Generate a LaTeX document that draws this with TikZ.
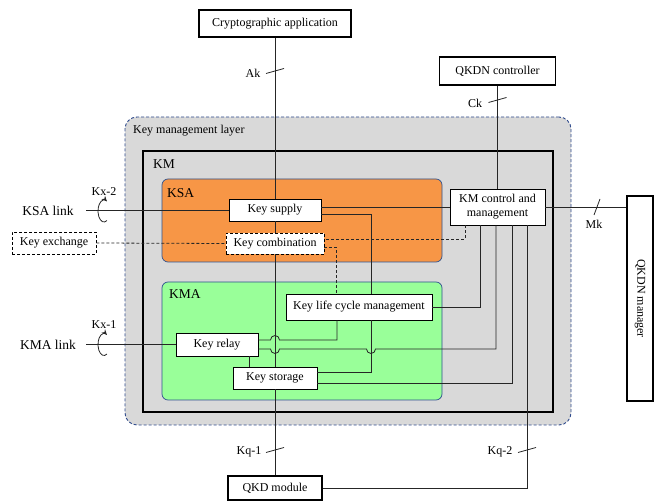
\documentclass[tikz,border=0pt]{standalone}
\usepackage{fontspec}
\setmainfont{Liberation Serif}
\usetikzlibrary{calc,arrows.meta}
\definecolor{layerfill}{HTML}{D9D9D9}
\definecolor{layeredge}{HTML}{2E4A8C}
\definecolor{ksafill}{HTML}{F79646}
\definecolor{kmafill}{HTML}{99FF99}
\definecolor{regionedge}{HTML}{2F528F}
\begin{document}
\begin{tikzpicture}[x=1pt,y=1pt,
  txt/.style={font=\fontsize{12}{14}\selectfont},
  bigtxt/.style={font=\fontsize{13.5}{15}\selectfont},
  fine dash/.style={dash pattern=on 3pt off 2pt},
  box/.style={draw=black, fill=white, line width=0.8pt, inner sep=0pt, align=center, txt},
  heavybox/.style={box, line width=1.8pt},
  dashbox/.style={box, fine dash},
  region/.style={draw=regionedge, line width=0.7pt, rounded corners=6pt, inner sep=0pt},
  wire/.style={line width=0.8pt, draw=black!85},
  dwire/.style={wire, fine dash},
  tag/.style={inner sep=0pt, txt},
  slashv/.pic={\draw[wire] (-9,-2.5) -- (9,2.5);},
  slashh/.pic={\draw[wire] (-3,-8) -- (3,8);},
  twist/.pic={\draw[wire, -{Stealth[length=5.5pt,width=5pt]}] (-60:6 and 11)
      arc[start angle=-60, end angle=-300, x radius=6, y radius=11];}
]
\useasboundingbox (0,0) rectangle (659,501);

% nested regions
\node[draw=layeredge, fine dash, fill=layerfill, line width=0.9pt, rounded corners=12pt,
      inner sep=0pt, minimum width=446pt, minimum height=308pt] (layer) at (348,230) {};
\node[draw=black, line width=2pt, inner sep=0pt, minimum width=410pt, minimum height=261pt] (km) at (348,219.5) {};
\node[region, fill=ksafill, minimum width=280pt, minimum height=83pt] (ksa) at (302,280.5) {};
\node[region, fill=kmafill, minimum width=280pt, minimum height=118pt] (kma) at (302,160) {};

\node[tag, anchor=west] (layerlabel) at (133,370) {Key management layer};
\node[tag, anchor=west, bigtxt] (kmlabel) at (153,337) {KM};
\node[tag, anchor=west, bigtxt] (ksalabel) at (167,308) {KSA};
\node[tag, anchor=west, bigtxt] (kmalabel) at (169,207) {KMA};

% functional blocks
\node[heavybox, minimum width=152pt, minimum height=27pt] (crypto) at (275,477.5) {Cryptographic application};
\node[heavybox, minimum width=116pt, minimum height=28pt] (ctrl) at (497.5,430) {QKDN controller};
\node[box, minimum width=92pt, minimum height=22pt] (supply) at (275,291) {Key supply};
\node[dashbox, minimum width=98pt, minimum height=21pt] (comb) at (275,257.5) {Key combination};
\node[box, minimum width=95pt, minimum height=36pt] (kmcm) at (497.5,294) {KM control and\\management};
\node[dashbox, minimum width=84pt, minimum height=22pt] (kex) at (54,258) {Key exchange};
\node[box, minimum width=146pt, minimum height=26pt] (lcm) at (359,194) {Key life cycle management};
\node[box, minimum width=82pt, minimum height=23pt] (relay) at (217,156.5) {Key relay};
\node[box, minimum width=84pt, minimum height=22pt] (storage) at (275,123) {Key storage};
\node[heavybox, minimum width=94pt, minimum height=24pt] (qkd) at (275,13) {QKD module};
\node[box, line width=2.6pt, minimum width=26pt, minimum height=205pt] (mgr) at (640,202.5) {};
\node[tag, rotate=-90] (mgrlabel) at (mgr.center) {QKDN manager};

% external links
\node[tag, bigtxt] (ksalink) at (48,290) {KSA link};
\node[tag, bigtxt] (kmalink) at (48,156) {KMA link};
\coordinate (ksaend) at (86,291);
\coordinate (kmaend) at (86,156.5);
\draw[wire] (ksaend) -- (supply.west);
\draw[wire] (kmaend) -- (relay.west);
\pic at (104,290) {twist};
\pic at (104,156.5) {twist};
\node[tag] (kx2) at (104,309) {Kx-2};
\node[tag] (kx1) at (104,176) {Kx-1};
\draw[dwire] (kex.east) -- (comb.west);

% application / module trunk
\draw[wire] (crypto.south) -- (supply.north);
\draw[wire] (supply.south) -- (comb.north);
\draw[wire] (comb.south) -- (storage.north);
\draw[wire] (storage.south) -- (qkd.north);
\pic at (275,430) {slashv};
\node[tag] (ak) at (253,428) {Ak};
\pic at (275,51) {slashv};
\node[tag] (kq1) at (249,49) {Kq-1};

% controller and manager
\draw[wire] (ctrl.south) -- (kmcm.north);
\pic at (497.5,401) {slashv};
\node[tag] (ck) at (475,398) {Ck};
\draw[wire] (kmcm.east) -- (kmcm.east -| mgr.west);
\pic at (597,294) {slashh};
\node[tag] (mk) at (594,277) {Mk};

% internal wiring
\draw[wire] (supply.east |- kmcm.west) -- (kmcm.west);
\draw[wire] (supply.east |- 0,287) -- (371,287) -- (lcm.north -| 371,0);
\draw[wire] (lcm.south -| 371,0) -- (371,129) -- (storage.east |- 0,129);
\draw[wire] (relay.east |- 0,161) -- (270.5,161) arc[start angle=180, end angle=0, radius=4.5]
  -- (337,161) -- (lcm.south -| 337,0);
\draw[wire] (relay.east |- 0,152) -- (270.5,152) arc[start angle=180, end angle=360, radius=4.5]
  -- (366.5,152) arc[start angle=180, end angle=360, radius=4.5]
  -- (496,152) -- (kmcm.south -| 496,0);
\draw[wire] (relay.south -| 249,0) -- (storage.north -| 249,0);
\draw[wire] (lcm.east) -- (480,194) -- (kmcm.south -| 480,0);
\draw[wire] (storage.east |- 0,118) -- (512,118) -- (kmcm.south -| 512,0);
\draw[wire] (kmcm.south -| 527,0) -- (527,13) -- (qkd.east);
\pic at (527,51) {slashv};
\node[tag] (kq2) at (500,49) {Kq-2};
\draw[dwire] (kmcm.south -| 465,0) -- (465,262) -- (comb.east |- 0,262);
\draw[dwire] (comb.east |- 0,254) -- (336,254) -- (lcm.north -| 336,0);
\end{tikzpicture}
\end{document}
